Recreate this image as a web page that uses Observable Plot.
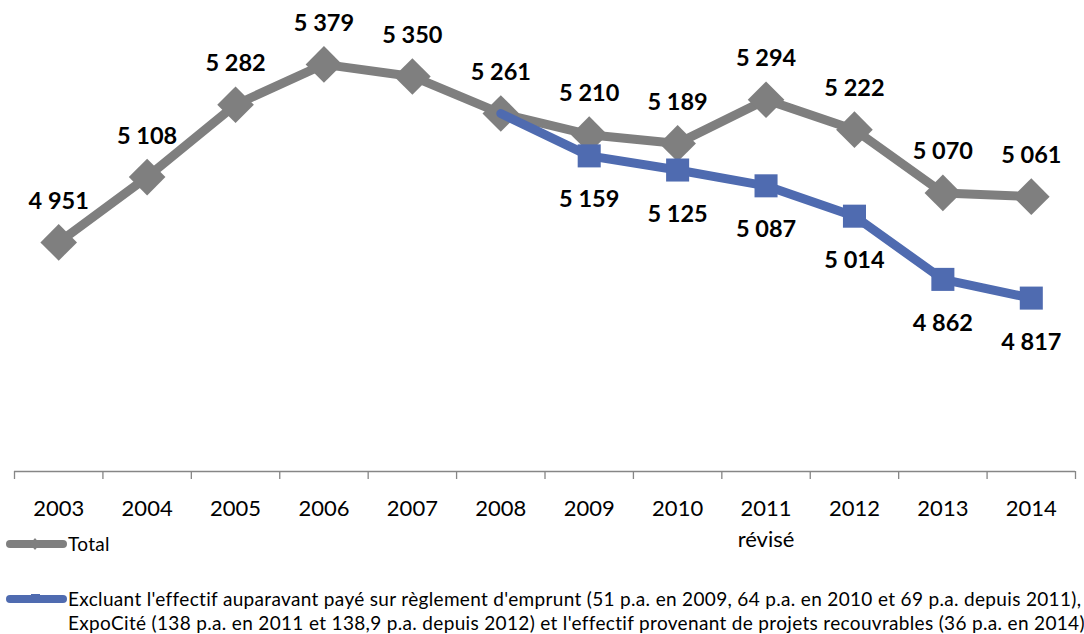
<!DOCTYPE html>
<html>
<head>
<meta charset="utf-8">
<script src="https://cdn.jsdelivr.net/npm/d3@7"></script>
<script src="https://cdn.jsdelivr.net/npm/@observablehq/plot@0.6"></script>
<style>
  html, body { margin: 0; padding: 0; background: #fff; }
  #wrap { position: relative; width: 1084px; height: 634px; overflow: hidden; font-family: Lato, "Open Sans", sans-serif; }
  #chart { position: absolute; left: 0; top: 0; }
  .sw { position: absolute; left: 0; }
  .lt { position: absolute; left: 68px; font-size: 19px; letter-spacing: 0.33px; line-height: 24px; color: #000; white-space: nowrap; }
</style>
</head>
<body>
<div id="wrap">
  <div id="chart"></div>
  <svg class="sw" style="top:534px" width="68" height="20">
    <line x1="10" y1="10" x2="63" y2="10" stroke="#7f7f7f" stroke-width="8" stroke-linecap="round"/>
    <path d="M35 4 L40 10 L35 16 L30 10 Z" fill="#7f7f7f"/>
  </svg>
  <div class="lt" style="top:532px">Total</div>
  <svg class="sw" style="top:589px" width="68" height="20">
    <line x1="10" y1="10" x2="63" y2="10" stroke="#4f6bb0" stroke-width="8" stroke-linecap="round"/>
    <rect x="31" y="5" width="9" height="9" fill="#4f6bb0"/>
  </svg>
  <div class="lt" style="top:587px">Excluant l'effectif auparavant payé sur règlement d'emprunt (51 p.a. en 2009, 64 p.a. en 2010 et 69 p.a. depuis 2011),<br>ExpoCité (138 p.a. en 2011 et 138,9 p.a. depuis 2012) et l'effectif provenant de projets recouvrables (36 p.a. en 2014)</div>
</div>
<script>
// ---- data ----
const years = [2003, 2004, 2005, 2006, 2007, 2008, 2009, 2010, 2011, 2012, 2013, 2014];
const yearLabels = ["2003", "2004", "2005", "2006", "2007", "2008", "2009", "2010", "2011\nrévisé", "2012", "2013", "2014"];
const totalValues = [4951, 5108, 5282, 5379, 5350, 5261, 5210, 5189, 5294, 5222, 5070, 5061];
const exclYears = [2008, 2009, 2010, 2011, 2012, 2013, 2014];
const exclValues = [5261, 5159, 5125, 5087, 5014, 4862, 4817];
const yMin = 4400, yMax = 5600;

const total = years.map((y, i) => ({year: y, value: totalValues[i]}));
const excl = exclYears.map((y, i) => ({year: y, value: exclValues[i]}));
const exclLabeled = excl.slice(1);
const boundaries = years.map(y => y - 0.5).concat([years[years.length - 1] + 0.5]);

const fmt = d3.formatLocale({decimal: ",", thousands: " ", grouping: [3], currency: ["", " €"]}).format(",d");

const grey = "#7f7f7f", blue = "#4f6bb0";

const chart = Plot.plot({
  width: 1084,
  height: 560,
  marginLeft: 14,
  marginRight: 9,
  marginTop: 0,
  marginBottom: 89,
  style: {fontFamily: "Lato, 'Open Sans', sans-serif", background: "transparent", overflow: "visible"},
  x: {type: "linear", domain: [boundaries[0], boundaries[boundaries.length - 1]], axis: null},
  y: {domain: [yMin, yMax], range: [471, -28], axis: null},
  marks: [
    Plot.axisX({ticks: boundaries, tickSize: 8, tickFormat: () => "", label: null, stroke: "#868686", strokeWidth: 1.3}),
    Plot.ruleY([yMin], {stroke: "#868686", strokeWidth: 1.3}),
    Plot.text(years, {x: d => d, y: () => yMin, text: (d, i) => yearLabels[i], dy: 22, lineAnchor: "top", lineHeight: 1.42, fontSize: 22, fill: "#000"}),
    Plot.line(total, {x: "year", y: "value", stroke: grey, strokeWidth: 9, strokeLinejoin: "round"}),
    Plot.dot(total, {x: "year", y: "value", symbol: "diamond2", r: 16.5, fill: grey, stroke: "none"}),
    Plot.line(excl, {x: "year", y: "value", stroke: blue, strokeWidth: 9, strokeLinejoin: "round"}),
    Plot.dot(exclLabeled, {x: "year", y: "value", symbol: "square", r: 13, fill: blue, stroke: "none"}),
    Plot.text(total, {x: "year", y: "value", text: d => fmt(d.value), dy: -41, fontSize: 23.5, fontWeight: "bold", fill: "#000"}),
    Plot.text(exclLabeled, {x: "year", y: "value", text: d => fmt(d.value), dy: 44, fontSize: 23.5, fontWeight: "bold", fill: "#000"})
  ]
});
document.getElementById("chart").appendChild(chart);
</script>
</body>
</html>
